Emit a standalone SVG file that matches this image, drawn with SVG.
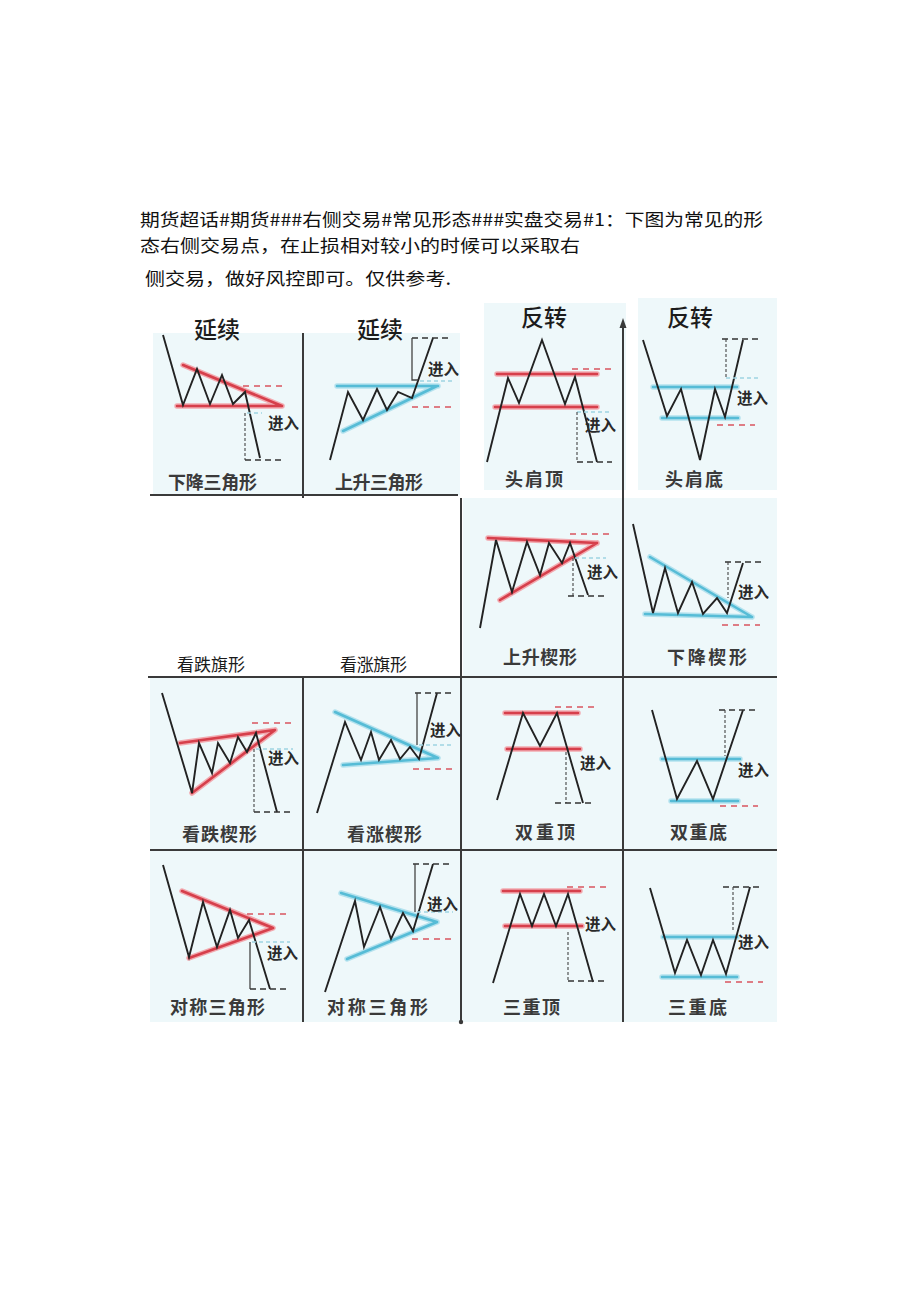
<svg xmlns="http://www.w3.org/2000/svg" width="920" height="1301" viewBox="0 0 920 1301">
<style>
.hdr{font-family:"Noto Sans CJK SC","Noto Sans",sans-serif;font-size:17.5px;fill:#111}
.ttl{font-family:"Noto Sans CJK SC",sans-serif;font-size:23px;font-weight:500;fill:#1c1c1c}
.lbl{font-family:"Noto Sans CJK SC",sans-serif;font-size:18px;font-weight:700;fill:#3a3a3a}
.flag{font-family:"Noto Sans CJK SC",sans-serif;font-size:17px;font-weight:400;fill:#1a1a1a}
.in{font-family:"Noto Sans CJK SC",sans-serif;font-size:15.5px;font-weight:700;fill:#2a2a2a}
.bg{fill:#eef8fa}
.zz{fill:none;stroke:#222;stroke-width:1.9;stroke-linejoin:miter}
.rh{fill:none;stroke:#f2aab0;stroke-width:5.5;stroke-linecap:round}
.r{fill:none;stroke:#d63f4b;stroke-width:2.6;stroke-linecap:round}
.bh{fill:none;stroke:#b4e2ee;stroke-width:5.5;stroke-linecap:round}
.b{fill:none;stroke:#56bcd6;stroke-width:2.6;stroke-linecap:round}
.rd{fill:none;stroke:#d9545f;stroke-width:1.6;stroke-dasharray:6 5}
.kd{fill:none;stroke:#333;stroke-width:1.6;stroke-dasharray:6 4}
.kv{fill:none;stroke:#444;stroke-width:1.1;stroke-dasharray:3 2}
.ks{fill:none;stroke:#444;stroke-width:1.3}
.ld{fill:none;stroke:#9fd3e2;stroke-width:1.3;stroke-dasharray:4 3}
.grid{fill:none;stroke:#3a3a3a;stroke-width:2}
</style>

<g id="header">
<text class="hdr" x="140" y="226" textLength="623" lengthAdjust="spacingAndGlyphs">期货超话#期货###右侧交易#常见形态###实盘交易#1：下图为常见的形</text>
<text class="hdr" x="140" y="252" textLength="440" lengthAdjust="spacingAndGlyphs">态右侧交易点，在止损相对较小的时候可以采取右</text>
<text class="hdr" x="145" y="285" textLength="306" lengthAdjust="spacingAndGlyphs">侧交易，做好风控即可。仅供参考.</text>
</g>

<g id="backgrounds">
<rect class="bg" x="153" y="333" width="307" height="162"/>
<rect class="bg" x="484" y="303" width="142" height="187"/>
<rect class="bg" x="638" y="298" width="139" height="192"/>
<rect class="bg" x="463" y="498" width="314" height="179"/>
<rect class="bg" x="150" y="678" width="627" height="344"/>
</g>

<g id="grid">
<path class="grid" d="M150,495 H458"/>
<path class="grid" d="M303,333 V498"/>
<path class="grid" d="M461,498 V1022"/>
<path class="grid" d="M623,326 V1022"/>
<path d="M623,318 L619.5,328 L626.5,328 Z" fill="#3a3a3a"/>
<path class="grid" d="M148,677 H777"/>
<path class="grid" d="M150,850 H777"/>
<path class="grid" d="M303,677 V1022"/>
<circle cx="461" cy="1022" r="2.2" fill="#3a3a3a"/>
</g>

<g id="titles">
<text class="ttl" x="217" y="338" text-anchor="middle">延续</text>
<text class="ttl" x="380" y="338" text-anchor="middle">延续</text>
<text class="ttl" x="544" y="326" text-anchor="middle" font-size="24">反转</text>
<text class="ttl" x="690" y="326" text-anchor="middle" font-size="24">反转</text>
<text class="flag" x="177" y="671" textLength="68">看跌旗形</text>
<text class="flag" x="340" y="671" textLength="67">看涨旗形</text>
</g>

<g id="p-descending-triangle">
<path class="rh" d="M183,365 L282,406 M177,406 H282"/>
<path class="r" d="M183,365 L282,406 M177,406 H282"/>
<polyline class="zz" points="163,335 183,405 197,369 210,404 222,375 233,404 245,392 260,458"/>
<path class="rd" d="M243,386 H284"/>
<path class="ld" d="M247,413 H262"/>
<path class="kv" d="M245,413 V460"/>
<path class="kd" d="M245,460 H284"/>
<text class="in" x="268" y="429">进入</text>
<text class="lbl" x="168" y="489" textLength="89">下降三角形</text>
</g>

<g id="p-ascending-triangle">
<path class="bh" d="M337,386 H438 M343,431 L437,386"/>
<path class="b" d="M337,386 H438 M343,431 L437,386"/>
<polyline class="zz" points="330,460 348,392 363,420 377,389 387,410 398,392 412,398 433,338"/>
<path class="kd" d="M412,338 H452"/>
<path class="ks" d="M412,338 V380 H418"/>
<path class="ld" d="M420,381 H452"/>
<path class="rd" d="M412,407 H452"/>
<text class="in" x="428" y="375">进入</text>
<text class="lbl" x="335" y="489" textLength="88">上升三角形</text>
</g>

<g id="p-head-shoulders-top">
<path class="rh" d="M497,374 H597 M495,407 H597"/>
<path class="r" d="M497,374 H597 M495,407 H597"/>
<polyline class="zz" points="487,462 508,378 519,403 542,340 565,404 575,377 597,462"/>
<path class="rd" d="M572,369 H612"/>
<path class="ld" d="M577,412 H611"/>
<path class="kv" d="M577,412 V462"/>
<path class="kd" d="M577,462 H612"/>
<text class="in" x="585" y="431">进入</text>
<text class="lbl" x="505" y="486" textLength="58">头肩顶</text>
</g>

<g id="p-head-shoulders-bottom">
<path class="bh" d="M653,387 H737 M662,418 H738"/>
<path class="b" d="M653,387 H737 M662,418 H738"/>
<polyline class="zz" points="643,340 667,416 681,389 700,460 715,389 725,417 743,340"/>
<path class="kd" d="M722,339 H758"/>
<path class="kv" d="M726,339 V378"/>
<path class="ld" d="M726,378 H758"/>
<path class="rd" d="M717,425 H755"/>
<text class="in" x="737" y="404">进入</text>
<text class="lbl" x="665" y="486" textLength="58">头肩底</text>
</g>

<g id="p-rising-wedge">
<path class="rh" d="M488,538 L597,543 M500,600 L597,543"/>
<path class="r" d="M488,538 L597,543 M500,600 L597,543"/>
<polyline class="zz" points="480,628 496,540 512,592 527,542 540,575 549,543 562,563 570,543 588,595"/>
<path class="rd" d="M570,534 H610"/>
<path class="ld" d="M575,558 H606"/>
<path class="kv" d="M573,558 V596"/>
<path class="kd" d="M568,596 H607"/>
<text class="in" x="587" y="578">进入</text>
<text class="lbl" x="503" y="664" textLength="74">上升楔形</text>
</g>

<g id="p-falling-wedge">
<path class="bh" d="M650,557 L752,617 M645,614 L752,617"/>
<path class="b" d="M650,557 L752,617 M645,614 L752,617"/>
<polyline class="zz" points="633,524 653,613 665,568 678,613 692,582 703,614 717,598 727,613 743,563"/>
<path class="kd" d="M725,562 H762"/>
<path class="kv" d="M728,562 V598"/>
<path class="rd" d="M722,625 H760"/>
<text class="in" x="738" y="598">进入</text>
<text class="lbl" x="667" y="664" textLength="80">下降楔形</text>
</g>

<g id="p-bearish-wedge">
<path class="rh" d="M180,743 L275,730 M192,793 L275,730"/>
<path class="r" d="M180,743 L275,730 M192,793 L275,730"/>
<polyline class="zz" points="162,693 192,793 199,743 212,773 218,743 230,763 238,737 247,752 256,733 277,812"/>
<path class="rd" d="M252,723 H293"/>
<path class="ld" d="M256,749 H293"/>
<path class="kv" d="M254,749 V812"/>
<path class="kd" d="M254,812 H292"/>
<text class="in" x="268" y="764">进入</text>
<text class="lbl" x="182" y="841" textLength="75">看跌楔形</text>
</g>

<g id="p-bullish-wedge">
<path class="bh" d="M335,712 L438,758 M343,765 L438,758"/>
<path class="b" d="M335,712 L438,758 M343,765 L438,758"/>
<polyline class="zz" points="317,813 345,722 361,760 371,732 379,760 391,740 400,759 410,747 419,759 437,693"/>
<path class="kd" d="M415,693 H452"/>
<path class="ks" d="M417,693 V745"/>
<path class="ld" d="M419,745 H452"/>
<path class="rd" d="M413,769 H452"/>
<text class="in" x="430" y="736">进入</text>
<text class="lbl" x="347" y="841" textLength="75">看涨楔形</text>
</g>

<g id="p-double-top">
<path class="rh" d="M505,713 H578 M507,749 H580"/>
<path class="r" d="M505,713 H578 M507,749 H580"/>
<polyline class="zz" points="497,800 523,713 540,746 557,713 583,803"/>
<path class="rd" d="M555,707 H595"/>
<path class="kv" d="M566,752 V803"/>
<path class="kd" d="M555,803 H595"/>
<text class="in" x="580" y="769">进入</text>
<text class="lbl" x="515" y="839" textLength="60">双重顶</text>
</g>

<g id="p-double-bottom">
<path class="bh" d="M662,759 H740 M671,801 H738"/>
<path class="b" d="M662,759 H740 M671,801 H738"/>
<polyline class="zz" points="652,710 677,799 697,761 713,799 743,710"/>
<path class="kd" d="M719,710 H755"/>
<path class="kv" d="M725,710 V756"/>
<path class="rd" d="M720,806 H758"/>
<text class="in" x="738" y="776">进入</text>
<text class="lbl" x="670" y="839" textLength="57">双重底</text>
</g>

<g id="p-symmetric-triangle-red">
<path class="rh" d="M182,891 L273,928 M189,958 L273,928"/>
<path class="r" d="M182,891 L273,928 M189,958 L273,928"/>
<polyline class="zz" points="163,865 189,957 203,902 217,947 230,910 238,938 249,920 270,989"/>
<path class="rd" d="M247,914 H287"/>
<path class="ld" d="M252,942 H290"/>
<path class="ks" d="M250,942 V989"/>
<path class="kd" d="M250,989 H287"/>
<text class="in" x="267" y="959">进入</text>
<text class="lbl" x="170" y="1014" textLength="95">对称三角形</text>
</g>

<g id="p-symmetric-triangle-blue">
<path class="bh" d="M341,893 L437,922 M347,959 L437,922"/>
<path class="b" d="M341,893 L437,922 M347,959 L437,922"/>
<polyline class="zz" points="325,992 355,901 364,947 380,907 391,939 403,913 413,931 433,864"/>
<path class="kd" d="M413,864 H453"/>
<path class="ks" d="M415,864 V912"/>
<path class="ld" d="M417,912 H453"/>
<path class="rd" d="M412,939 H452"/>
<text class="in" x="427" y="910">进入</text>
<text class="lbl" x="327" y="1014" textLength="101">对称三角形</text>
</g>

<g id="p-triple-top">
<path class="rh" d="M503,891 H580 M505,926 H582"/>
<path class="r" d="M503,891 H580 M505,926 H582"/>
<polyline class="zz" points="493,983 520,894 532,926 544,894 556,926 568,894 593,982"/>
<path class="rd" d="M567,887 H607"/>
<path class="kv" d="M568,932 V981"/>
<path class="kd" d="M568,981 H607"/>
<text class="in" x="585" y="930">进入</text>
<text class="lbl" x="503" y="1014" textLength="57">三重顶</text>
</g>

<g id="p-triple-bottom">
<path class="bh" d="M663,937 H737 M662,977 H737"/>
<path class="b" d="M663,937 H737 M662,977 H737"/>
<polyline class="zz" points="650,888 675,973 687,940 701,975 713,940 726,974 750,887"/>
<path class="kd" d="M723,887 H763"/>
<path class="kv" d="M733,887 V932"/>
<path class="rd" d="M725,982 H763"/>
<text class="in" x="738" y="948">进入</text>
<text class="lbl" x="668" y="1014" textLength="59">三重底</text>
</g>
</svg>
